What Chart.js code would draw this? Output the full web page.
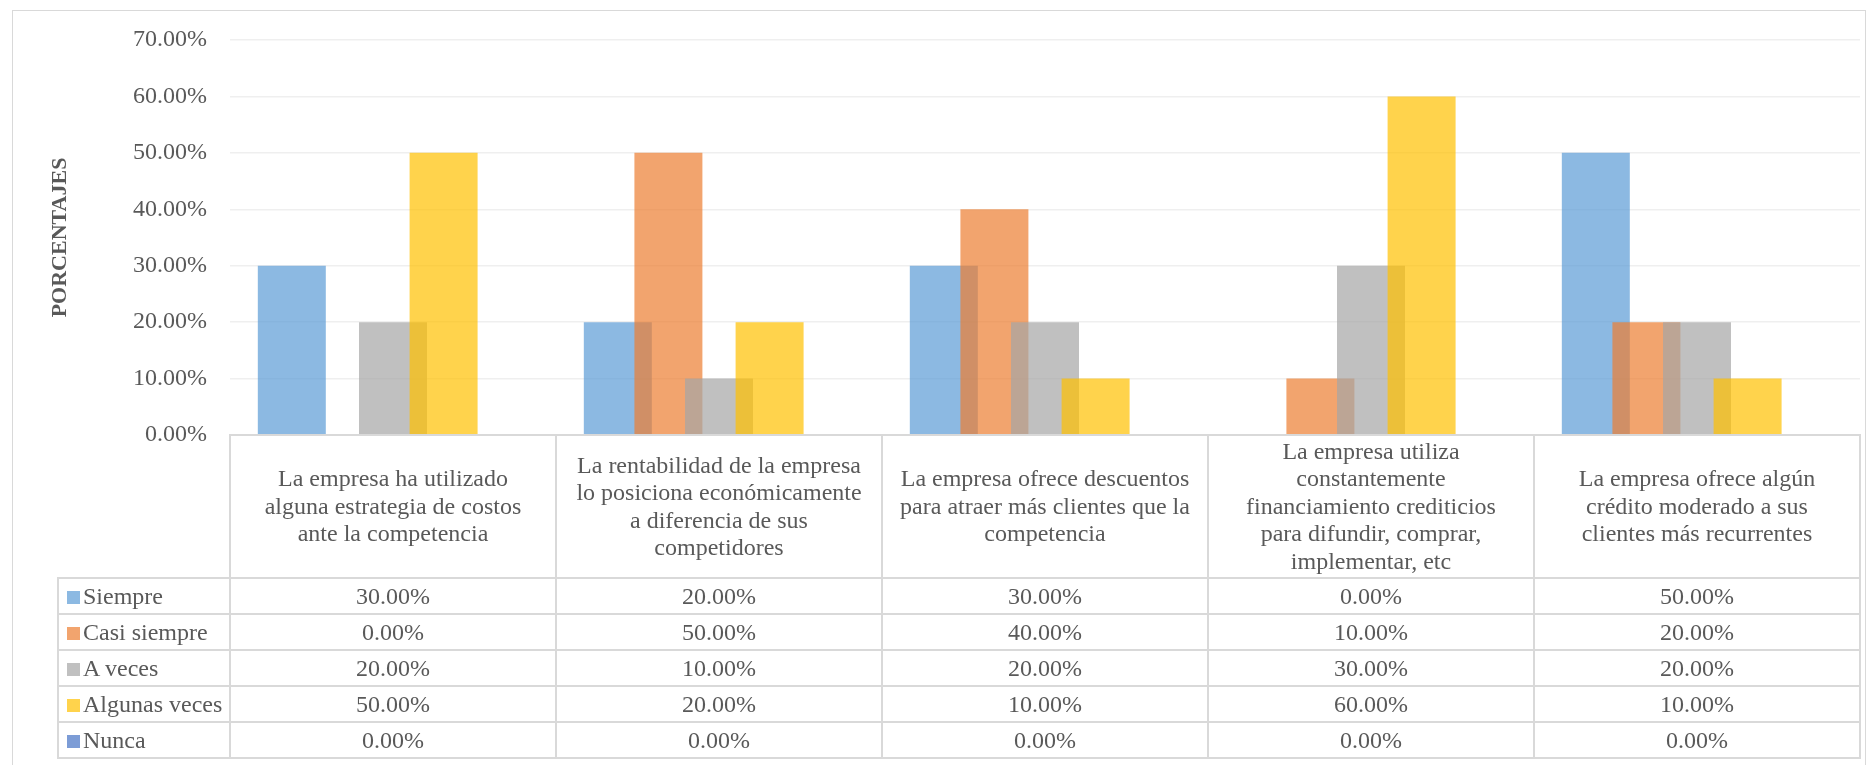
<!DOCTYPE html>
<html>
<head>
<meta charset="utf-8">
<script src="https://cdn.jsdelivr.net/npm/chart.js@4.4.0/dist/chart.umd.min.js"></script>
<style>
    html, body { margin: 0; padding: 0; background: #fff; overflow: hidden; }
    #wrap { position: relative; width: 1872px; height: 765px; }
    #frame { position: absolute; left: 12px; top: 10px; width: 1854px; height: 800px; border: 1px solid #d9d9d9; box-sizing: border-box; }
    #grafico { position: absolute; left: 0; top: 0; }
    #tabla {
        position: absolute; border-collapse: collapse; table-layout: fixed;
        font-family: "Liberation Serif", "Times New Roman", serif; font-size: 24px; color: #595959;
    }
    #tabla td { border: 2px solid #d9d9d9; text-align: center; padding: 0; white-space: nowrap; overflow: hidden; }
    #tabla td.vacio { border: none; }
    #tabla td.cab { line-height: 27.5px; vertical-align: middle; }
    #tabla td.serie { text-align: left; padding-left: 8px; }
    .clave { display: inline-block; width: 13px; height: 13px; margin-right: 3px; vertical-align: 0px; }
</style>
</head>
<body>
<div id="wrap">
    <div id="frame"></div>
    <canvas id="grafico" width="1872" height="765"></canvas>
    <table id="tabla"></table>
</div>
<script>
// categorias (cada una en sus lineas, como en la tabla de Excel)
const categorias = [
    ["La empresa ha utilizado", "alguna estrategia de costos", "ante la competencia"],
    ["La rentabilidad de la empresa", "lo posiciona económicamente", "a diferencia de sus", "competidores"],
    ["La empresa ofrece descuentos", "para atraer más clientes que la", "competencia"],
    ["La empresa utiliza", "constantemente", "financiamiento crediticios", "para difundir, comprar,", "implementar, etc"],
    ["La empresa ofrece algún", "crédito moderado a sus", "clientes más recurrentes"]
];

const series = ["Siempre", "Casi siempre", "A veces", "Algunas veces", "Nunca"];

const siempre      = [30, 20, 30, 0, 50];
const casiSiempre  = [0, 50, 40, 10, 20];
const aVeces       = [20, 10, 20, 30, 20];
const algunasVeces = [50, 20, 10, 60, 10];
const nunca        = [0, 0, 0, 0, 0];

const yTicks = [0, 10, 20, 30, 40, 50, 60, 70];

const colores = [
    'rgba(91, 155, 213, 0.7)',
    'rgba(237, 125, 49, 0.7)',
    'rgba(165, 165, 165, 0.7)',
    'rgba(255, 192, 0, 0.7)',
    'rgba(68, 114, 196, 0.7)'
];

const fuente = '"Liberation Serif", "Times New Roman", serif';
const valores = [siempre, casiSiempre, aVeces, algunasVeces, nunca];

const datasets = [];
for (let i = 0; i < series.length; i++) {
    datasets.push({
        label: series[i],
        data: valores[i],
        backgroundColor: colores[i],
        borderWidth: 0,
        barPercentage: 1.344,
        categoryPercentage: 0.776
    });
}

// Excel pinta las series en orden: la siguiente encima de la anterior
const ordenExcel = {
    id: 'ordenExcel',
    beforeDatasetsDraw(chart) {
        chart.getSortedVisibleDatasetMetas().forEach(m => m.controller.draw());
        return false;
    }
};

const ctx = document.getElementById('grafico');
const chart = new Chart(ctx, {
    type: 'bar',
    data: {
        labels: categorias.map(c => c.join(' ')),
        datasets: datasets
    },
    options: {
        responsive: false,
        animation: false,
        layout: { padding: { top: 40, right: 12, bottom: 330, left: 0 } },
        plugins: {
            legend: { display: false },
            tooltip: { enabled: false }
        },
        scales: {
            x: { display: false },
            y: {
                min: yTicks[0],
                max: yTicks[yTicks.length - 1],
                afterBuildTicks: s => { s.ticks = yTicks.map(v => ({ value: v })); },
                afterFit: s => { s.width = 230; },
                ticks: {
                    padding: 23,
                    color: '#595959',
                    font: { family: fuente, size: 24 },
                    callback: v => v.toFixed(2) + '%'
                },
                grid: {
                    drawTicks: false,
                    lineWidth: 1.5,
                    color: c => c.tick && c.tick.value === 0 ? '#d9d9d9' : '#efefef'
                },
                border: { display: false },
                title: {
                    display: true,
                    text: 'PORCENTAJES',
                    color: '#595959',
                    font: { family: fuente, size: 22, weight: 'bold' },
                    padding: { top: 47, bottom: 0 }
                }
            }
        }
    },
    plugins: [ordenExcel]
});

// tabla de datos debajo del grafico, alineada con la escala x
function tablaDatos() {
    const area = chart.chartArea;
    const xs = chart.scales.x;
    const ancho = (area.right - area.left) / categorias.length;
    const izq = 58;
    const tabla = document.getElementById('tabla');
    tabla.style.left = (izq - 1) + 'px';
    tabla.style.top = (area.bottom - 1) + 'px';

    let html = '<colgroup><col style="width:' + (area.left - izq) + 'px">';
    for (let i = 0; i < categorias.length; i++) {
        const a = xs.getPixelForValue(i) - ancho / 2;
        const b = xs.getPixelForValue(i) + ancho / 2;
        html += '<col style="width:' + (b - a) + 'px">';
    }
    html += '</colgroup>';

    html += '<tr style="height:143px"><td class="vacio"></td>';
    categorias.forEach(c => { html += '<td class="cab">' + c.join('<br>') + '</td>'; });
    html += '</tr>';

    for (let s = 0; s < series.length; s++) {
        html += '<tr style="height:36px"><td class="serie"><span class="clave" style="background:' + colores[s] + '"></span>' + series[s] + '</td>';
        valores[s].forEach(v => { html += '<td>' + v.toFixed(2) + '%</td>'; });
        html += '</tr>';
    }
    tabla.innerHTML = html;
}
tablaDatos();
</script>
</body>
</html>
